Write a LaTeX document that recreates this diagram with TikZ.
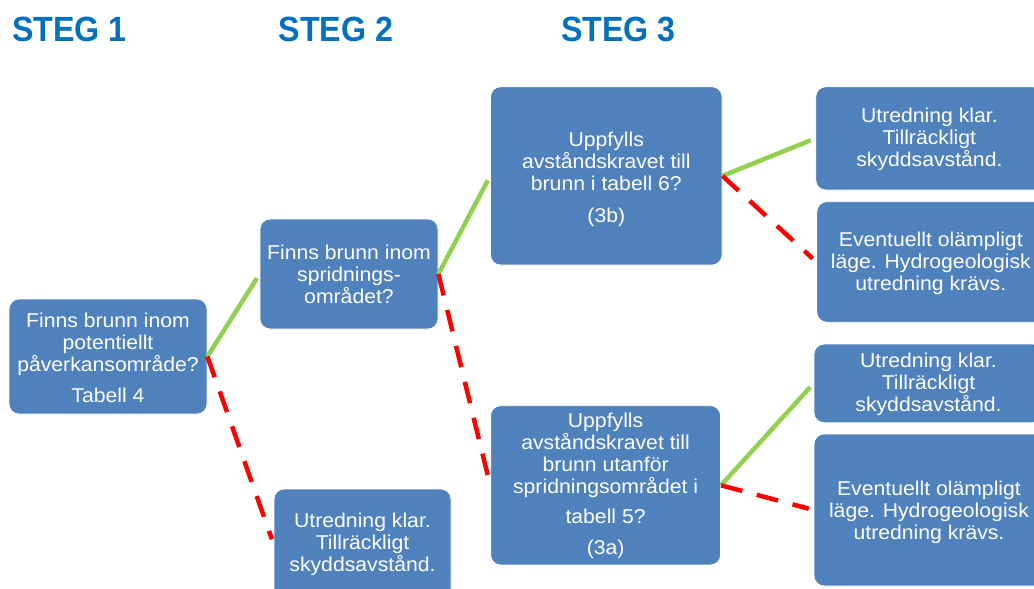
\documentclass[tikz,border=0pt]{standalone}
\usepackage{fontspec}
\setmainfont{Liberation Sans}[FakeStretch=1.06]
\newfontfamily\titlefont{Liberation Sans}[FakeStretch=0.92]
\definecolor{boxblue}{HTML}{4F81BD}
\definecolor{yesgreen}{HTML}{92D050}
\definecolor{nored}{HTML}{FF0000}
\definecolor{titleblue}{HTML}{0070C0}
\tikzset{
  stepbox/.style={draw=white, line width=0.8pt, fill=boxblue, rounded corners=10pt, inner sep=0pt},
  boxtext/.style={text=white, align=center, inner sep=0pt, anchor=north, font=\fontsize{20}{22}\selectfont},
  yesline/.style={draw=yesgreen, line width=4.5pt, shorten >=5pt},
  noline/.style={draw=nored, line width=4.5pt, dash pattern=on 22pt off 15pt, shorten >=5pt},
  titletext/.style={text=titleblue, font=\titlefont\bfseries\fontsize{35}{40}\selectfont, anchor=base, inner sep=0pt}
}
\begin{document}
\begin{tikzpicture}[x=1pt,y=-1pt]
\useasboundingbox (0,0) rectangle (1034,589);
\clip (0,0) rectangle (1034,589);
\fill[white] (0,0) rectangle (1034,589);

% titles
\node[titletext] (s1) at (69.5,41) {STEG 1};
\node[titletext] (s2) at (335.8,41) {STEG 2};
\node[titletext] (s3) at (618.5,41) {STEG 3};

% boxes
\node[stepbox, minimum width=198pt, minimum height=115pt] (a) at (108,356.5) {};
\node[stepbox, minimum width=178pt, minimum height=110pt] (b) at (349,274) {};
\node[stepbox, minimum width=177pt, minimum height=110pt] (c) at (362.5,544) {};
\node[stepbox, minimum width=231.5pt, minimum height=178.3pt] (d) at (606.3,175.9) {};
\node[stepbox, minimum width=230pt, minimum height=159.3pt] (e) at (605.6,485.3) {};
\node[stepbox, minimum width=227.3pt, minimum height=103.3pt] (f) at (929.4,138.4) {};
\node[stepbox, minimum width=228pt, minimum height=120.6pt] (g) at (930.8,262) {};
\node[stepbox, minimum width=229pt, minimum height=78.7pt] (h) at (928.5,383.4) {};
\node[stepbox, minimum width=230pt, minimum height=152pt] (i) at (929,510) {};

% texts
\node[boxtext] (ta) at (108,311) {\rule{0pt}{16pt}Finns brunn inom\\potentiellt\\påverkansområde?\\[9pt]Tabell 4};
\node[boxtext] (tb) at (349,243) {\rule{0pt}{16pt}Finns brunn inom\\spridnings-\\området?};
\node[boxtext] (tc) at (362.5,511) {\rule{0pt}{16pt}Utredning klar.\\Tillräckligt\\skyddsavstånd.};
\node[boxtext] (td) at (606.3,130) {\rule{0pt}{16pt}Uppfylls\\avståndskravet till\\brunn i tabell 6?\\[10pt](3b)};
\node[boxtext] (te) at (605.6,411) {\rule{0pt}{16pt}Uppfylls\\avståndskravet till\\brunn utanför\\spridningsområdet i\\[8pt]tabell 5?\\[9pt](3a)};
\node[boxtext] (tf) at (929.4,106.7) {\rule{0pt}{16pt}Utredning klar.\\Tillräckligt\\skyddsavstånd.};
\node[boxtext] (tg) at (930.8,230.7) {\rule{0pt}{16pt}Eventuellt olämpligt\\läge. Hydrogeologisk\\utredning krävs.};
\node[boxtext] (th) at (928.5,351.3) {\rule{0pt}{16pt}Utredning klar.\\Tillräckligt\\skyddsavstånd.};
\node[boxtext] (ti) at (929,479) {\rule{0pt}{16pt}Eventuellt olämpligt\\läge. Hydrogeologisk\\utredning krävs.};

% connectors
\draw[yesline] (a.east) -- (b.west);
\draw[noline] (a.east) -- (c.west);
\draw[yesline] (b.east) -- (d.west);
\draw[noline] (b.east) -- (e.west);
\draw[yesline] (d.east) -- (f.west);
\draw[noline] (d.east) -- (g.west);
\draw[yesline] (e.east) -- (h.west);
\draw[noline] (e.east) -- (i.west);
\end{tikzpicture}
\end{document}
